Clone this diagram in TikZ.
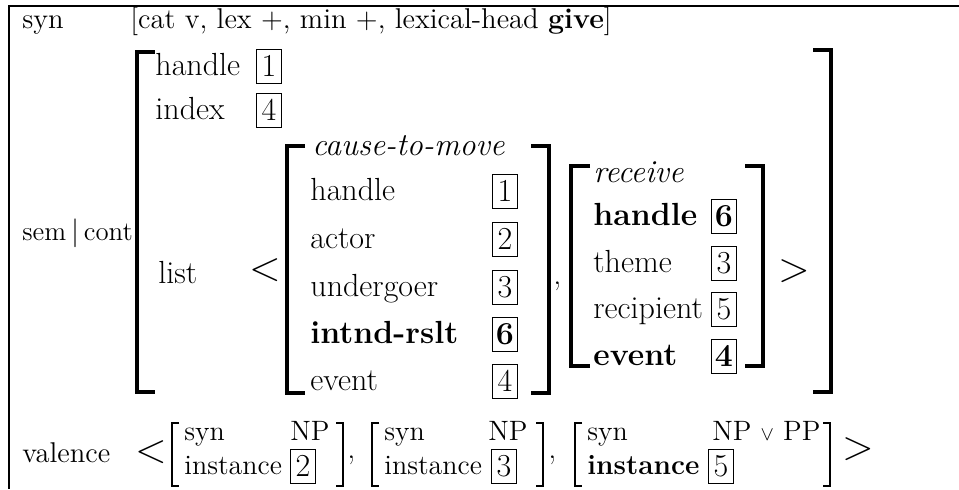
\documentclass[tikz,border=0pt]{standalone}
\usepackage{fontspec}
\usepackage{amsmath}
\usetikzlibrary{positioning}

\tikzset{
  txt/.style={anchor=base west, inner sep=0pt, font=\fontsize{16}{19}\selectfont},
  vtxt/.style={anchor=base west, inner sep=0pt, font=\fontsize{14}{17}\selectfont},
  feat/.style={anchor=base west, inner sep=0pt, font=\fontsize{14.3}{17}\selectfont},
  tag/.style={draw, line width=0.5pt, minimum width=12.5pt, minimum height=17pt, inner sep=0pt, font=\fontsize{16}{19}\selectfont},
  bigbr/.style={line width=2.4pt},
  smallbr/.style={line width=0.6pt},
  sym/.style={inner sep=0pt, font=\fontsize{22}{26}\selectfont},
}

\begin{document}
\begin{tikzpicture}[x=0.5pt, y=-0.5pt]
        \useasboundingbox (0,0) rectangle (959,489);

        % frame
        \draw[line width=1.4pt] (8,6) -- (959,6);
        \draw[line width=1pt] (9,5) -- (9,489);

        % syn row
        \node[feat] (synlbl) at (22,28) {syn};
        \node[feat] (synval) at (130,28) {[cat v, lex +, min +, lexical-head \textbf{give}]};

        % first column
        \node[feat, font=\fontsize{13.4}{16}\selectfont] (semlbl) at (22,240) {sem$\,|\,$cont};
        \node[feat] (vallbl) at (22,462) {valence};

        % outer brackets
        \draw[bigbr] (155,52) -| (137,392) -- (155,392);
        \draw[bigbr] (813,50) -| (831,392) -- (813,392);

        % outer features
        \node[txt] (hdl) at (155,75) {handle};
        \node[tag] (hdltag) at (269,66) {1};
        \node[txt] (idx) at (155,119) {index};
        \node[tag] (idxtag) at (269,110) {4};
        \node[txt] (lst) at (158,283) {list};
        \node[sym] (lopen) at (265,270) {$<$};

        % cause-to-move
        \draw[bigbr] (305,146) -| (287,393) -- (305,393);
        \draw[bigbr] (531,146) -| (549,393) -- (531,393);
        \node[txt] (ctm) at (312,155) {\textit{cause-to-move}};
        \foreach \nm/\lab/\tg/\yy in {c1/handle/1/200, c2/actor/2/248, c3/undergoer/3/296,
                                      c4/{\textbf{intnd-rslt}}/{\textbf{6}}/343, c5/event/4/390} {
            \node[txt] (\nm) at (310,\yy) {\lab};
            \node[tag] (\nm t) at (505,\yy-9) {\tg};
        }
        \node[txt] (cm1) at (553,284) {,};

        % receive
        \draw[bigbr] (590,166) -| (571,366) -- (590,366);
        \draw[bigbr] (745,166) -| (763,366) -- (745,366);
        \node[txt] (rcv) at (593,182) {\textit{receive}};
        \foreach \nm/\lab/\tg/\yy in {r1/{\textbf{handle}}/{\textbf{6}}/225, r2/theme/3/272,
                                      r3/recipient/5/318, r4/{\textbf{event}}/{\textbf{4}}/365} {
            \node[txt] (\nm) at (593,\yy) {\lab};
            \node[tag] (\nm t) at (724,\yy-9) {\tg};
        }
        \node[sym] (rclose) at (794,271) {$>$};

        % valence
        \node[sym] (vopen) at (151,452) {$<$};
        \foreach \nm/\xl/\xr/\xc/\cat/\inst/\tg/\xt in {v1/172/343/290/NP/instance/2/303,
                                                       v2/372/543/488/NP/instance/3/504,
                                                       v3/575/830/712/{NP {\fontsize{10}{12}\selectfont$\vee$} PP}/{\textbf{instance}}/5/721} {
            \draw[smallbr] (\xl+7,423) -| (\xl,486) -- (\xl+7,486);
            \draw[smallbr] (\xr-7,423) -| (\xr,486) -- (\xr-7,486);
            \node[vtxt] (\nm s) at (\xl+12,440) {syn};
            \node[vtxt] (\nm c) at (\xc,440) {\cat};
            \node[vtxt] (\nm i) at (\xl+12,474) {\inst};
            \node[tag] (\nm t) at (\xt,466) {\tg};
        }
        \node[txt] (cm2) at (347,458) {,};
        \node[txt] (cm3) at (548,458) {,};
        \node[sym] (vclose) at (858,449) {$>$};

    \end{tikzpicture}
\end{document}
